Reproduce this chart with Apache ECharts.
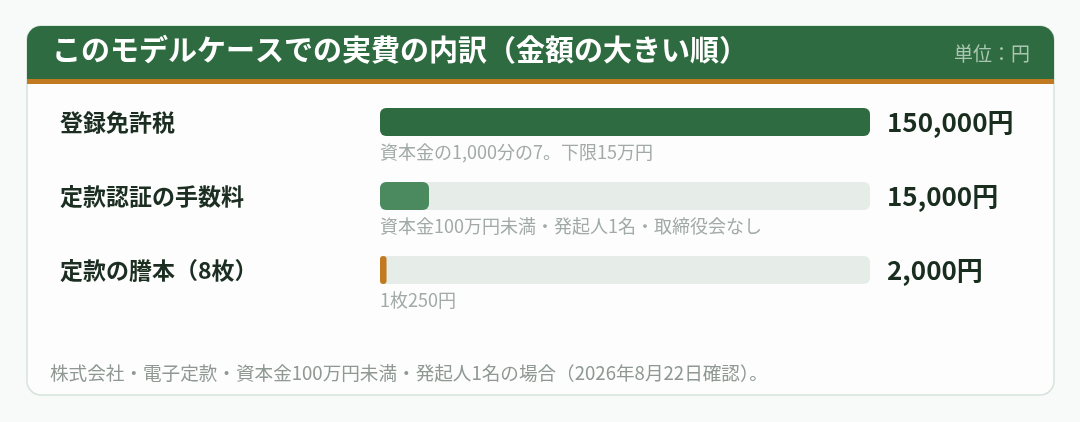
<!DOCTYPE html>
<html>
<head>
<meta charset="utf-8">
<title>実費の内訳</title>
<script src="https://cdn.jsdelivr.net/npm/echarts@6/dist/echarts.min.js"></script>
<style>
  html, body { margin: 0; padding: 0; background: #f7faf8; }
  #main { width: 1080px; height: 422px; }
</style>
</head>
<body>
<div id="main"></div>
<script>
// 費目（金額の大きい順）
var categories = ['登録免許税', '定款認証の手数料', '定款の謄本（8枚）'];
var amounts = [150000, 15000, 2000];
var notes = [
    '資本金の1,000分の7。下限15万円',
    '資本金100万円未満・発起人1名・取締役会なし',
    '1枚250円'
];
var barColors = ['#2f6b40', '#4a8a5e', '#c27a20'];

var titleText = 'このモデルケースでの実費の内訳（金額の大きい順）';
var unitText = '単位：円';
var footText = '株式会社・電子定款・資本金100万円未満・発起人1名の場合（2026年8月22日確認）。';

var FONT = '"Noto Sans CJK JP", "Noto Sans", sans-serif';

var myChart = echarts.init(document.getElementById('main'));

var barData = amounts.map(function (v, i) {
    return { value: v, itemStyle: { color: barColors[i] } };
});
var noteData = notes.map(function (n, i) {
    return { value: [0, i], label: { formatter: n } };
});

var option = {
    animation: false,
    backgroundColor: '#f7faf8',
    textStyle: { fontFamily: FONT },
    grid: { left: 380, right: 210, top: 85, bottom: 115 },
    xAxis: {
        type: 'value', min: 0, max: 150000,
        show: false
    },
    yAxis: [
        {
            type: 'category', data: categories, inverse: true,
            axisLine: { show: false }, axisTick: { show: false },
            axisLabel: {
                margin: 320, align: 'left',
                color: '#1c2e22', fontSize: 23, fontWeight: 'bold', fontFamily: FONT
            }
        },
        {
            type: 'category', data: categories, inverse: true, position: 'right',
            axisLine: { show: false }, axisTick: { show: false },
            axisLabel: {
                margin: 17, align: 'left',
                color: '#1a2e20', fontSize: 26, fontWeight: 'bold', fontFamily: FONT,
                formatter: function (v, i) { return amounts[i].toLocaleString('en-US') + '円'; }
            }
        }
    ],
    graphic: [
        { type: 'rect', shape: { x: 27, y: 26, width: 1027, height: 369, r: 14 },
          style: { fill: '#fcfdfc', stroke: '#d6e3da', lineWidth: 1.5 }, z: -10 },
        { type: 'rect', shape: { x: 27, y: 26, width: 1027, height: 54, r: [14, 14, 0, 0] },
          style: { fill: '#2f6b40' }, z: -9 },
        { type: 'rect', shape: { x: 27, y: 79, width: 1027, height: 5 },
          style: { fill: '#c27a20' }, z: -8 },
        { type: 'text', left: 52, top: 35, z: 5,
          style: { text: titleText, fill: '#ffffff', font: 'bold 29px ' + FONT } },
        { type: 'text', right: 50, top: 44, z: 5,
          style: { text: unitText, fill: '#a9c6b1', font: '19px ' + FONT } },
        { type: 'text', left: 50, top: 364, z: 5,
          style: { text: footText, fill: '#8f9893', font: '18.6px ' + FONT } }
    ],
    series: [
        {
            name: '実費', type: 'bar', yAxisIndex: 0,
            barWidth: 28,
            data: barData,
            showBackground: true,
            backgroundStyle: { color: '#e6ece8', borderRadius: 6 },
            itemStyle: { borderRadius: 6 }
        },
        {
            name: '注記', type: 'scatter', yAxisIndex: 0,
            symbolSize: 1,
            itemStyle: { color: 'rgba(0,0,0,0)' },
            silent: true,
            label: {
                show: true, position: 'inside', align: 'left', verticalAlign: 'middle',
                offset: [0, 30], color: '#8a9590', fontSize: 18, fontFamily: FONT
            },
            data: noteData
        }
    ]
};

myChart.setOption(option);
</script>
</body>
</html>
